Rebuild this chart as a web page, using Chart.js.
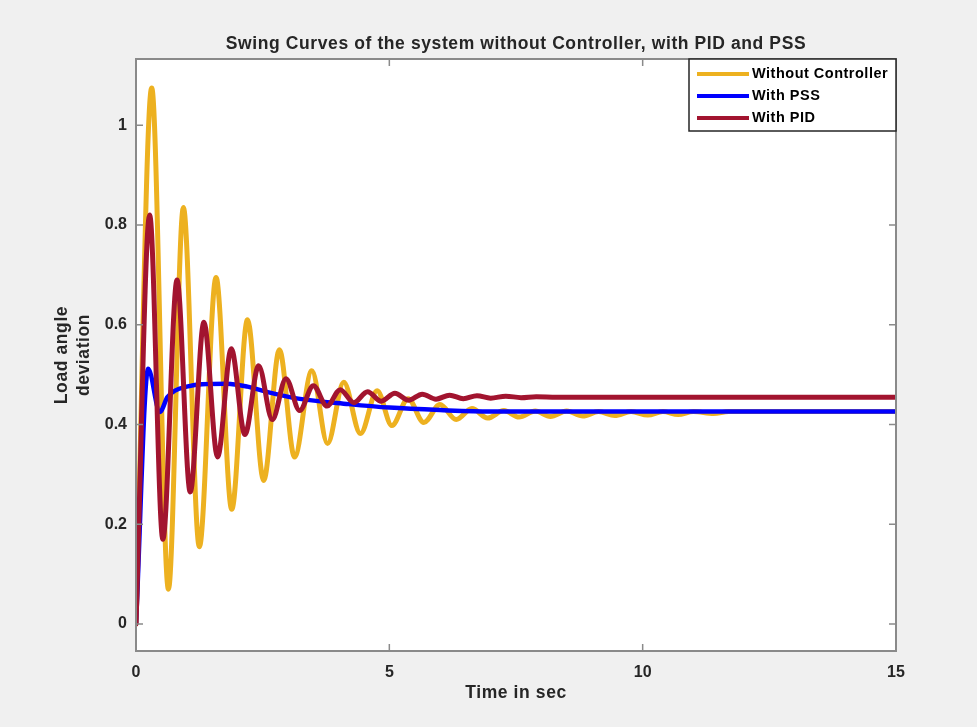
<!DOCTYPE html>
<html>
<head>
<meta charset="utf-8">
<title>Swing Curves</title>
<script src="https://cdn.jsdelivr.net/npm/chart.js@4.4.1/dist/chart.umd.min.js"></script>
<style>
  html, body { margin: 0; padding: 0; background: #f0f0f0; }
  #wrap { width: 977px; height: 727px; }
</style>
</head>
<body>
<div id="wrap"><canvas id="swingChart" width="977" height="727"></canvas></div>
<script>
// tick labels
const xTicks = [0, 5, 10, 15];
const yTicks = [0, 0.2, 0.4, 0.6, 0.8, 1];

// without controller (orange) - peaks and troughs
const timeNoCtrl = [0, 0.31, 0.64, 0.935, 1.25, 1.58, 1.89, 2.2, 2.52, 2.83, 3.13, 3.47, 3.78, 4.1, 4.43, 4.76, 5.05,
  5.37, 5.68, 6.0, 6.32, 6.63, 6.94, 7.26, 7.56, 7.88, 8.18, 8.5, 8.82, 9.13, 9.45, 9.77, 10.1, 10.4, 10.7, 11.0, 11.4, 11.7, 12.3, 15];
const noCtrl = [0, 1.075, 0.07, 0.835, 0.155, 0.695, 0.23, 0.61, 0.288, 0.55, 0.335, 0.508, 0.362, 0.485, 0.382, 0.468, 0.398,
  0.452, 0.404, 0.44, 0.41, 0.432, 0.413, 0.428, 0.415, 0.427, 0.416, 0.427, 0.417, 0.426, 0.418, 0.426, 0.419, 0.426, 0.42, 0.426, 0.422, 0.426, 0.426, 0.426];

// with PSS (blue)
const timePss = [0, 0.24, 0.47, 0.62, 0.77, 1.0, 1.3, 1.8, 2.2, 2.6, 3.2, 4.2, 5.0, 6.0, 7.0, 8.0, 10, 12, 15];
const pss = [0, 0.512, 0.425, 0.455, 0.468, 0.476, 0.481, 0.482, 0.476, 0.465, 0.452, 0.441, 0.434, 0.429, 0.426, 0.426, 0.426, 0.426, 0.426];

// with PID (dark red)
const timePid = [0, 0.27, 0.53, 0.81, 1.07, 1.34, 1.61, 1.88, 2.15, 2.42, 2.69, 2.96, 3.23, 3.5, 3.77, 4.03, 4.3, 4.57, 4.84,
  5.11, 5.38, 5.65, 5.92, 6.19, 6.46, 6.73, 7.0, 7.3, 7.6, 7.9, 8.3, 15];
const pid = [0, 0.82, 0.17, 0.69, 0.265, 0.605, 0.335, 0.552, 0.38, 0.518, 0.41, 0.492, 0.428, 0.478, 0.437, 0.47, 0.444, 0.466, 0.447,
  0.463, 0.449, 0.461, 0.451, 0.459, 0.452, 0.458, 0.453, 0.457, 0.454, 0.456, 0.455, 0.455];

function toPoints(xs, ys) {
  return xs.map((x, i) => ({ x: x, y: ys[i] }));
}

// white plot area + box + inward ticks like matlab
const axesBox = {
  id: 'axesBox',
  beforeDraw(chart) {
    const ctx = chart.ctx, a = chart.chartArea;
    ctx.save();
    ctx.fillStyle = '#ffffff';
    ctx.fillRect(a.left, a.top, a.right - a.left, a.bottom - a.top);
    ctx.restore();
  },
  afterDatasetsDraw(chart) {
    const ctx = chart.ctx, a = chart.chartArea;
    const xs = chart.scales.x, ys = chart.scales.y;
    ctx.save();
    ctx.strokeStyle = '#8a8a8a';
    ctx.lineWidth = 2;
    ctx.strokeRect(a.left, a.top, a.right - a.left, a.bottom - a.top);
    ctx.lineWidth = 1.5;
    ctx.beginPath();
    xTicks.forEach(v => {
      const px = xs.getPixelForValue(v);
      ctx.moveTo(px, a.bottom); ctx.lineTo(px, a.bottom - 7);
      ctx.moveTo(px, a.top); ctx.lineTo(px, a.top + 7);
    });
    yTicks.forEach(v => {
      const py = ys.getPixelForValue(v);
      ctx.moveTo(a.left, py); ctx.lineTo(a.left + 7, py);
      ctx.moveTo(a.right, py); ctx.lineTo(a.right - 7, py);
    });
    ctx.stroke();

    // titles
    ctx.fillStyle = '#262626';
    ctx.textAlign = 'center';
    ctx.textBaseline = 'middle';
    ctx.letterSpacing = '0.6px';
    ctx.font = 'bold 17.5px "Liberation Sans", Arial, sans-serif';
    ctx.fillText('Swing Curves of the system without Controller, with PID and PSS', (a.left + a.right) / 2, 44);
    ctx.fillText('Time in sec', (a.left + a.right) / 2, 693);
    ctx.translate(73, (a.top + a.bottom) / 2);
    ctx.rotate(-Math.PI / 2);
    ctx.fillText('Load angle', 0, -11);
    ctx.fillText('deviation', 0, 11);
    ctx.restore();

    // legend box, top right
    ctx.save();
    const lx = 689, ly = a.top, lw = a.right - 689, lh = 72;
    ctx.fillStyle = '#ffffff';
    ctx.fillRect(lx, ly, lw, lh);
    ctx.strokeStyle = '#262626';
    ctx.lineWidth = 1.5;
    ctx.strokeRect(lx, ly, lw, lh);
    ctx.letterSpacing = '0.5px';
    ctx.font = 'bold 14.5px "Liberation Sans", Arial, sans-serif';
    ctx.textBaseline = 'middle';
    ctx.textAlign = 'left';
    chart.data.datasets.forEach((ds, i) => {
      const yy = ly + 15 + i * 22;
      ctx.strokeStyle = ds.borderColor;
      ctx.lineWidth = 4;
      ctx.beginPath();
      ctx.moveTo(lx + 8, yy); ctx.lineTo(lx + 60, yy);
      ctx.stroke();
      ctx.fillStyle = '#000000';
      ctx.fillText(ds.label, lx + 63, yy);
    });
    ctx.restore();
  }
};

new Chart(document.getElementById('swingChart'), {
  type: 'line',
  data: {
    datasets: [{
      label: 'Without Controller',
      data: toPoints(timeNoCtrl, noCtrl),
      borderColor: '#edb120',
      borderWidth: 5,
      order: 3
    }, {
      label: 'With PSS',
      data: toPoints(timePss, pss),
      borderColor: '#0000ff',
      borderWidth: 4.5,
      order: 2
    }, {
      label: 'With PID',
      data: toPoints(timePid, pid),
      borderColor: '#a2142f',
      borderWidth: 5,
      order: 1
    }]
  },
  options: {
    responsive: false,
    animation: false,
    events: [],
    layout: { padding: { top: 59, right: 81, left: 0, bottom: 0 } },
    elements: {
      point: { radius: 0 },
      line: { cubicInterpolationMode: 'monotone', fill: false, borderCapStyle: 'round', borderJoinStyle: 'round' }
    },
    plugins: { legend: { display: false }, tooltip: { enabled: false }, title: { display: false } },
    scales: {
      x: {
        type: 'linear',
        min: 0, max: 15,
        afterBuildTicks: s => { s.ticks = xTicks.map(v => ({ value: v })); },
        afterFit: s => { s.height = 76; },
        grid: { display: false, drawTicks: false },
        border: { display: false },
        ticks: { padding: 12, color: '#262626', font: { family: 'Liberation Sans', size: 16, weight: 'bold' }, maxRotation: 0, callback: v => String(v) }
      },
      y: {
        type: 'linear',
        min: -0.054, max: 1.133,
        afterBuildTicks: s => { s.ticks = yTicks.map(v => ({ value: v })); },
        afterFit: s => { s.width = 136; },
        grid: { display: false, drawTicks: false },
        border: { display: false },
        ticks: { padding: 9, color: '#262626', font: { family: 'Liberation Sans', size: 16, weight: 'bold' }, callback: v => String(v) }
      }
    }
  },
  plugins: [axesBox]
});
</script>
</body>
</html>
